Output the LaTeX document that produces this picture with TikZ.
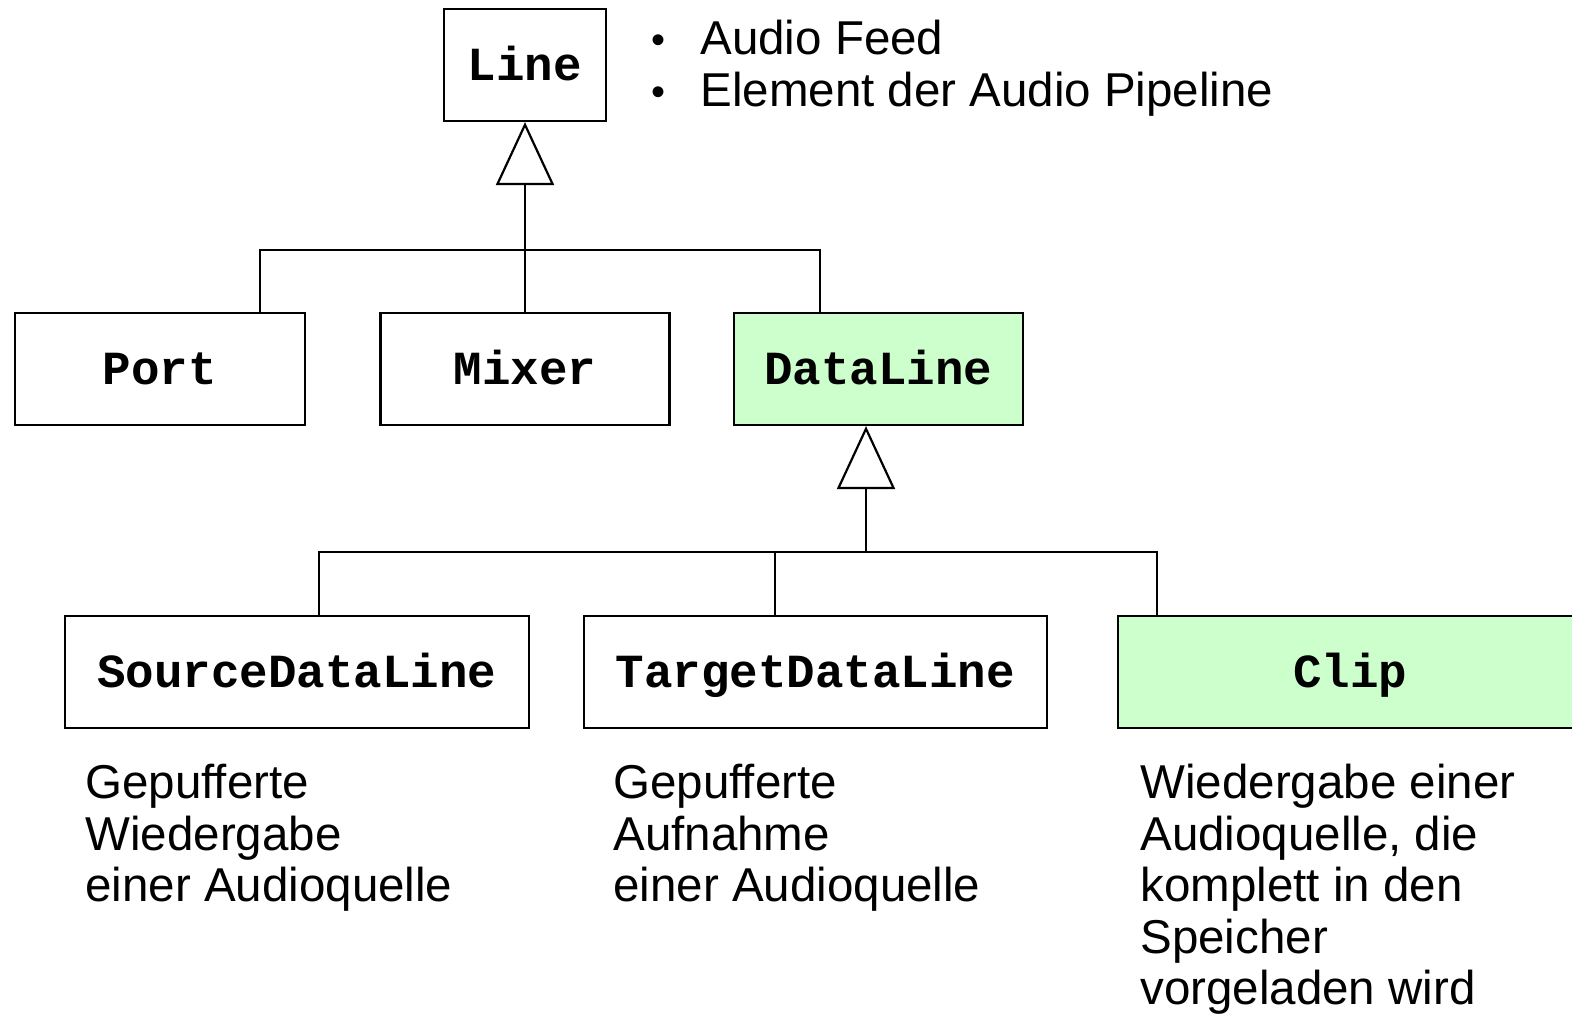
\documentclass[tikz,border=0pt]{standalone}
\usepackage{fontspec}
\setmainfont{Liberation Sans}
\setmonofont{Liberation Mono}
\usetikzlibrary{arrows.meta}
\definecolor{lgreen}{HTML}{CCFFCC}
\begin{document}
\begin{tikzpicture}[x=0.5pt,y=-0.5pt,
  cls/.style={draw=black, line width=1.1pt, fill=white, minimum height=56pt, inner sep=0pt,
    text height=15pt, text depth=0pt,
    font=\fontsize{23.75}{26}\selectfont\ttfamily\bfseries},
  hl/.style={fill=lgreen},
  gen/.style={line width=1.1pt, -{Triangle[open, length=31.5pt, width=29pt, line width=1.1pt]}},
  conn/.style={line width=1.1pt},
  desc/.style={anchor=north west, inner sep=0pt, align=left,
    font=\fontsize{23.75}{25.75}\selectfont},
  bul/.style={anchor=base west, inner sep=0pt, font=\fontsize{20}{20}\selectfont}]
\useasboundingbox (0,0) rectangle (1572,1014);
\fill[white] (0,0) rectangle (1572,1014);

% classes
\node[cls, minimum width=81pt] (line) at (525,65) {Line};
\node[cls, minimum width=145pt] (port) at (160,369) {Port};
\node[cls, minimum width=144.5pt] (mixer) at (525,369) {Mixer};
\node[cls, hl, minimum width=144.5pt] (dataline) at (878.5,369) {DataLine};
\node[cls, minimum width=232pt] (source) at (297,672) {SourceDataLine};
\node[cls, minimum width=231.5pt] (target) at (815.5,672) {TargetDataLine};
\node[cls, hl, minimum width=232pt] (clip) at (1350,672) {Clip};

% junctions
\coordinate (j1) at (525,250);
\coordinate (j2) at (866,552);

% generalisations
\draw[gen] (j1) -- (line.south);
\draw[conn] ([xshift=50pt]port.north) |- (j1) -| ([xshift=-29.25pt]dataline.north);
\draw[conn] (mixer.north) -- (j1);

\draw[gen] (j2) -- ([xshift=-6.25pt]dataline.south);
\draw[conn] ([xshift=11pt]source.north) |- (j2) -| ([xshift=20pt]clip.north west);
\draw[conn] ([xshift=-20.25pt]target.north) -- ([xshift=-20.25pt]target.north |- j2);

% bullet notes
\node[bul] (b1) at (651,53) {•};
\node[desc, anchor=base west] (t1) at (700,54) {Audio Feed};
\node[bul] (b2) at (651,105) {•};
\node[desc, anchor=base west] (t2) at (700,106) {Element der Audio Pipeline};

% descriptions
\node[desc] (d1) at (85,764) {Gepufferte\\Wiedergabe\\einer Audioquelle};
\node[desc] (d2) at (613,764) {Gepufferte\\Aufnahme\\einer Audioquelle};
\node[desc] (d3) at (1140,764) {Wiedergabe einer\\Audioquelle, die\\komplett in den\\Speicher\\vorgeladen wird};
\end{tikzpicture}
\end{document}
